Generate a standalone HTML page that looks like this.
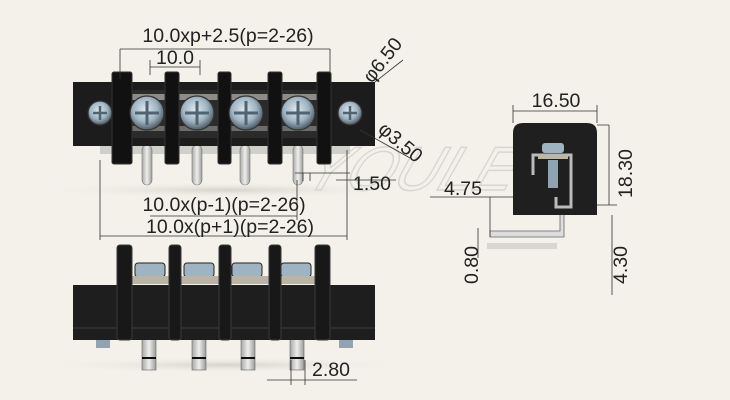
<!DOCTYPE html>
<html><head><meta charset="utf-8"><style>
html,body{margin:0;padding:0;background:#f3f1ea;}
svg{display:block}
text{font-family:"Liberation Sans",sans-serif;fill:#222;}
</style></head><body>
<svg width="730" height="400" viewBox="0 0 730 400" xmlns="http://www.w3.org/2000/svg">
<defs>
<radialGradient id="scr" cx="45%" cy="40%" r="60%"><stop offset="0" stop-color="#dfe8ee"/><stop offset="0.6" stop-color="#9fb4c2"/><stop offset="1" stop-color="#4d5a63"/></radialGradient>
<linearGradient id="pin" x1="0" x2="1"><stop offset="0" stop-color="#a8a8a6"/><stop offset="0.5" stop-color="#eeeeec"/><stop offset="1" stop-color="#9c9c9a"/></linearGradient>
<radialGradient id="sh" cx="50%" cy="50%" r="50%"><stop offset="0" stop-color="#d6d3cc"/><stop offset="1" stop-color="#f3f1ea" stop-opacity="0"/></radialGradient>
</defs>
<rect width="730" height="400" fill="#f3f1ea"/>
<ellipse cx="225" cy="190" rx="190" ry="8" fill="url(#sh)"/>
<ellipse cx="225" cy="365" rx="190" ry="8" fill="url(#sh)"/>
<text x="300" y="190" font-size="62" font-style="italic" stroke="#d8d6d0" stroke-width="1.5" style="fill:none" transform="skewX(-20) translate(70,0)">YOULE</text>

<!-- TOP VIEW -->
<g>
<rect x="100" y="140" width="250" height="14" fill="#cfcfcc"/>
<g fill="url(#pin)" stroke="#777" stroke-width="0.6">
<rect x="142" y="145" width="10" height="40" rx="5"/><rect x="192" y="145" width="10" height="40" rx="5"/>
<rect x="240" y="145" width="10" height="40" rx="5"/><rect x="293" y="145" width="10" height="40" rx="5"/>
</g>
<rect x="73" y="82" width="302" height="64" fill="#1c1c1c"/>
<rect x="115" y="90" width="213" height="48" fill="#2b2b2b"/>
<rect x="115" y="94" width="213" height="6" fill="#8d8c88"/>
<rect x="115" y="126" width="213" height="5" fill="#6d6c68"/>
<g fill="#111" stroke="#333" stroke-width="1">
<rect x="112" y="72" width="20" height="92" rx="2"/><rect x="165" y="72" width="14" height="92" rx="2"/>
<rect x="218" y="72" width="13" height="92" rx="2"/><rect x="268" y="72" width="14" height="92" rx="2"/>
<rect x="317" y="72" width="14" height="92" rx="2"/>
</g>
<g stroke="#333" stroke-width="1.2">
<circle cx="147" cy="113" r="17" fill="url(#scr)"/><circle cx="197" cy="113" r="17" fill="url(#scr)"/>
<circle cx="246" cy="113" r="17" fill="url(#scr)"/><circle cx="298" cy="113" r="17" fill="url(#scr)"/>
<circle cx="100" cy="113" r="12" fill="url(#scr)"/><circle cx="350" cy="113" r="12" fill="url(#scr)"/>
</g>
<g stroke="#4f6370" stroke-width="3">
<path d="M135 113h24M147 101v24M185 113h24M197 101v24M234 113h24M246 101v24M286 113h24M298 101v24"/>
<path d="M93 113h14M100 106v14M343 113h14M350 106v14" stroke-width="2.5"/>
</g>
</g>
<g stroke="#333" stroke-width="0.8" fill="none">
<path d="M120 49h210M120 49v30M330 49v25M150 67h50M150 60v15M200 60v15"/>
<path d="M100 236h247M100 160v80M347 150v90"/>
<path d="M150 216h147M297 180v40"/>
<path d="M295 173h55M303 173v8M310 173v8M336 180h60"/>
<path d="M375 82l28-22M360 130l50 28"/>
</g>
<text x="228" y="42" font-size="19.5" text-anchor="middle">10.0xp+2.5(p=2-26)</text>
<text x="175" y="64" font-size="19.5" text-anchor="middle">10.0</text>
<text x="224" y="211" font-size="19.5" text-anchor="middle">10.0x(p-1)(p=2-26)</text>
<text x="230" y="233" font-size="19.5" text-anchor="middle">10.0x(p+1)(p=2-26)</text>
<text x="353" y="190" font-size="19.5">1.50</text>
<text x="372" y="84" font-size="19.5" transform="rotate(-52 372 84)">φ6.50</text>
<text x="377" y="131" font-size="19.5" transform="rotate(40 377 131)">φ3.50</text>

<!-- BOTTOM VIEW -->
<g>
<g fill="url(#pin)" stroke="#666" stroke-width="0.6">
<rect x="142" y="338" width="14" height="32"/><rect x="192" y="338" width="14" height="32"/>
<rect x="241" y="338" width="14" height="32"/><rect x="290" y="338" width="14" height="32"/>
</g>
<path d="M142 358h14M192 358h14M241 358h14M290 358h14" stroke="#111" stroke-width="2"/>
<rect x="96" y="338" width="14" height="10" fill="#8fa4b2"/><rect x="339" y="338" width="14" height="10" fill="#8fa4b2"/>
<g fill="#9fb4c2" stroke="#222"><rect x="135" y="263" width="30" height="14" rx="3"/><rect x="184" y="263" width="30" height="14" rx="3"/><rect x="232" y="263" width="30" height="14" rx="3"/><rect x="281" y="263" width="30" height="14" rx="3"/></g>
<rect x="130" y="276" width="195" height="8" fill="#b9b4a6"/>
<rect x="73" y="285" width="302" height="55" fill="#1e1e1e"/>
<rect x="73" y="327" width="302" height="2" fill="#2e2e2e"/>
<g fill="#181818" stroke="#3a3a3a">
<rect x="117" y="245" width="15" height="95" rx="3"/><rect x="169" y="245" width="12" height="95" rx="3"/>
<rect x="219" y="245" width="12" height="95" rx="3"/><rect x="269" y="245" width="12" height="95" rx="3"/>
<rect x="315" y="245" width="15" height="95" rx="3"/>
</g>
</g>
<g stroke="#333" stroke-width="0.8" fill="none"><path d="M267 380h90M291 360v25M305 360v25"/></g>
<text x="312" y="376" font-size="19.5">2.80</text>

<!-- SIDE VIEW -->
<g>
<rect x="487" y="243" width="70" height="6" fill="#d8d6d0"/>
<path d="M560 213v18h-70v6h74v-24z" fill="#ddd" stroke="#666" stroke-width="0.8"/>
<path d="M513 215V133q0-10 10-10h64q10 0 10 10v82z" fill="#1f1f1f"/>
<path d="M533 175v-20h38v52h-15v-10" fill="none" stroke="#bbb" stroke-width="3"/>
<rect x="542" y="143" width="22" height="10" rx="3" fill="#9fb4c2"/>
<rect x="538" y="154" width="30" height="5" fill="#bdb7a8"/>
<rect x="548" y="160" width="10" height="28" fill="#8fa4b2"/>
</g>
<g stroke="#333" stroke-width="0.8" fill="none">
<path d="M513 111h84M513 105v18M597 105v18"/>
<path d="M597 125h12M609 125v80M597 205h20M612 215v80"/>
<path d="M430 197h83M490 197v40M478 228v30"/>
</g>
<text x="556" y="107" font-size="19.5" text-anchor="middle">16.50</text>
<text x="444" y="195" font-size="19.5">4.75</text>
<text x="632" y="198" font-size="19.5" transform="rotate(-90 632 198)">18.30</text>
<text x="478" y="284" font-size="19.5" transform="rotate(-90 478 284)">0.80</text>
<text x="627" y="284" font-size="19.5" transform="rotate(-90 627 284)">4.30</text>
</svg>
</body></html>
